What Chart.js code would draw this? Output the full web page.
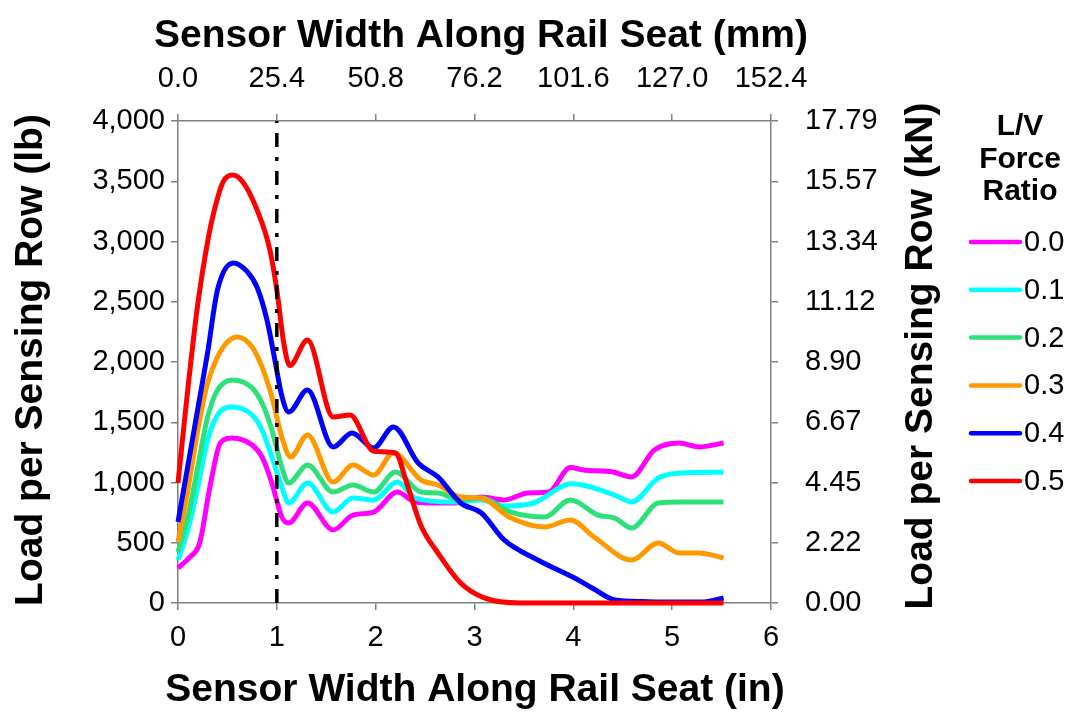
<!DOCTYPE html>
<html>
<head>
<meta charset="utf-8">
<script src="https://cdn.jsdelivr.net/npm/chart.js@4.4.1/dist/chart.umd.min.js"></script>
<style>
  html, body { margin: 0; padding: 0; background: #ffffff; }
  #wrap { width: 1072px; height: 715px; position: relative; }
</style>
</head>
<body>
<div id="wrap"><canvas id="chart"></canvas></div>
<script>
// L/V force ratios and their line colours
const ratios = ['0.0', '0.1', '0.2', '0.3', '0.4', '0.5'];
const colors = ['#FF00FF', '#00FFFF', '#2EE07A', '#FF9900', '#0000FF', '#FF0000'];

// Sensor position (in) and load per sensing row (lb) for each ratio
const pos00  = [0, 0.12, 0.22, 0.32, 0.43, 0.55, 0.75, 0.85, 0.95, 1.05, 1.12, 1.31, 1.57, 1.77, 1.98, 2.22, 2.4, 2.6, 2.8, 3.07, 3.3, 3.54, 3.75, 3.97, 4.1, 4.4, 4.59, 4.82, 5.07, 5.27, 5.52];
const load00 = [290, 380, 500, 950, 1330, 1370, 1311, 1212, 996, 714, 664, 830, 606, 730, 755, 921, 838, 830, 830, 880, 855, 913, 921, 1125, 1104, 1087, 1046, 1270, 1328, 1295, 1328];

const pos01  = [0, 0.1, 0.2, 0.3, 0.4, 0.55, 0.75, 0.85, 0.95, 1.05, 1.12, 1.31, 1.57, 1.77, 1.98, 2.22, 2.4, 2.8, 3.07, 3.3, 3.6, 3.98, 4.42, 4.59, 4.86, 5.1, 5.52];
const load01 = [357, 606, 963, 1353, 1560, 1627, 1560, 1436, 1212, 963, 830, 996, 755, 871, 855, 1004, 871, 838, 855, 805, 830, 990, 896, 838, 1037, 1079, 1085];

const pos02  = [0, 0.1, 0.2, 0.3, 0.4, 0.55, 0.75, 0.85, 0.95, 1.05, 1.12, 1.31, 1.57, 1.77, 1.98, 2.2, 2.46, 2.63, 2.86, 3.07, 3.37, 3.71, 3.97, 4.25, 4.42, 4.59, 4.86, 5.1, 5.52];
const load02 = [423, 714, 1129, 1544, 1768, 1851, 1785, 1660, 1436, 1129, 996, 1145, 921, 979, 921, 1087, 921, 913, 855, 871, 755, 714, 855, 730, 705, 622, 830, 838, 838];

const pos03  = [0, 0.1, 0.2, 0.3, 0.4, 0.5, 0.6, 0.75, 0.85, 0.95, 1.05, 1.14, 1.31, 1.57, 1.77, 1.98, 2.18, 2.46, 2.63, 2.86, 3.07, 3.35, 3.71, 3.97, 4.21, 4.59, 4.86, 5.07, 5.27, 5.52];
const load03 = [506, 938, 1436, 1826, 2042, 2166, 2208, 2125, 1959, 1710, 1378, 1212, 1394, 1004, 1145, 1062, 1245, 1020, 979, 880, 871, 714, 631, 689, 548, 357, 498, 415, 415, 374];

const pos04  = [0, 0.1, 0.2, 0.3, 0.4, 0.56, 0.7, 0.8, 0.9, 0.98, 1.05, 1.12, 1.31, 1.57, 1.76, 1.98, 2.18, 2.43, 2.63, 2.86, 3.07, 3.3, 3.64, 4.05, 4.2, 4.42, 4.7, 5.0, 5.3, 5.52];
const load04 = [672, 1140, 1610, 2080, 2600, 2822, 2750, 2620, 2349, 2017, 1720, 1585, 1768, 1295, 1411, 1287, 1461, 1162, 1046, 830, 747, 523, 357, 191, 120, 25, 12, 8, 8, 42];

const pos05  = [0, 0.1, 0.2, 0.3, 0.38, 0.46, 0.55, 0.65, 0.8, 0.93, 1.0, 1.07, 1.13, 1.31, 1.57, 1.74, 1.98, 2.2, 2.32, 2.46, 2.63, 2.86, 3.1, 3.47, 4.0, 4.5, 5.0, 5.52];
const load05 = [996, 1780, 2480, 3000, 3300, 3500, 3552, 3500, 3262, 2930, 2598, 2158, 1970, 2183, 1544, 1560, 1260, 1245, 980, 640, 415, 166, 42, 0, 0, 0, 0, 0];

// Rail seat edge marker (in) and its vertical extent (lb)
const seatEdgeX = [1, 1];
const seatEdgeY = [0, 4000];

// Tick labels
const xTicksIn = ['0', '1', '2', '3', '4', '5', '6'];
const xTicksMm = ['0.0', '25.4', '50.8', '76.2', '101.6', '127.0', '152.4'];
const yTicksLb = ['0', '500', '1,000', '1,500', '2,000', '2,500', '3,000', '3,500', '4,000'];
const yTicksKn = ['0.00', '2.22', '4.45', '6.67', '8.90', '11.12', '13.34', '15.57', '17.79'];

const FONT = "'Liberation Sans', Arial, sans-serif";
const AXIS_GRAY = '#808080';

const positions = [pos00, pos01, pos02, pos03, pos04, pos05];
const loads = [load00, load01, load02, load03, load04, load05];

const toPoints = (xs, ys) => xs.map((x, i) => ({ x: x, y: ys[i] }));

const seriesSets = ratios.map((r, i) => ({
  label: r,
  data: toPoints(positions[i], loads[i]),
  borderColor: colors[i],
  backgroundColor: colors[i],
  borderWidth: 5,
  pointRadius: 0,
  fill: false,
  cubicInterpolationMode: 'monotone',
  clip: 8,
  order: ratios.length - i,
  xAxisID: 'x',
  yAxisID: 'y'
}));

seriesSets.push({
  label: 'seat edge',
  data: toPoints(seatEdgeX, seatEdgeY),
  borderColor: '#000000',
  borderWidth: 3.5,
  borderDash: [14, 10, 4, 10],
  pointRadius: 0,
  fill: false,
  tension: 0,
  order: 0,
  clip: 4,
  xAxisID: 'x',
  yAxisID: 'y'
});

// Axis titles and the ratio legend
const annotations = {
  id: 'annotations',
  afterDraw(chart) {
    const ctx = chart.ctx;
    ctx.save();
    ctx.fillStyle = '#000';
    ctx.textAlign = 'center';
    ctx.textBaseline = 'middle';
    ctx.font = 'bold 39px ' + FONT;
    ctx.fillText('Sensor Width Along Rail Seat (mm)', 481, 36);
    ctx.fillText('Sensor Width Along Rail Seat (in)', 475, 690);

    ctx.save();
    ctx.translate(31, 360);
    ctx.rotate(-Math.PI / 2);
    ctx.fillText('Load per Sensing Row (lb)', 0, 0);
    ctx.restore();

    ctx.save();
    ctx.translate(921, 356);
    ctx.rotate(-Math.PI / 2);
    ctx.fillText('Load per Sensing Row (kN)', 0, 0);
    ctx.restore();

    ctx.font = 'bold 30px ' + FONT;
    ['L/V', 'Force', 'Ratio'].forEach((t, i) => ctx.fillText(t, 1020, 127 + 32.5 * i));

    ctx.font = '29px ' + FONT;
    ctx.textAlign = 'left';
    ratios.forEach((r, i) => {
      const y = 242 + 47.8 * i;
      ctx.strokeStyle = colors[i];
      ctx.lineWidth = 4.5;
      ctx.lineCap = 'round';
      ctx.beginPath();
      ctx.moveTo(971, y);
      ctx.lineTo(1020, y);
      ctx.stroke();
      ctx.fillText(r, 1024, y + 1);
    });
    ctx.restore();
  }
};

const commonGrid = {
  drawOnChartArea: false,
  drawTicks: true,
  tickLength: 7,
  color: AXIS_GRAY,
  lineWidth: 1.5
};
const commonBorder = { display: true, color: AXIS_GRAY, width: 1.5 };

new Chart(document.getElementById('chart'), {
  type: 'line',
  data: { datasets: seriesSets },
  plugins: [annotations],
  options: {
    responsive: true,
    maintainAspectRatio: false,
    animation: false,
    layout: { padding: 0 },
    plugins: { legend: { display: false }, tooltip: { enabled: false } },
    scales: {
      x: {
        type: 'linear', position: 'bottom', min: 0, max: 6,
        grid: commonGrid, border: commonBorder,
        ticks: {
          stepSize: 1, padding: 11, color: '#000', maxRotation: 0,
          font: { family: FONT, size: 29 },
          callback: (v, i) => xTicksIn[i]
        },
        afterFit: s => { s.height = 112; }
      },
      x2: {
        type: 'linear', position: 'top', min: 0, max: 6,
        grid: commonGrid, border: commonBorder,
        ticks: {
          stepSize: 1, padding: 18, color: '#000', maxRotation: 0,
          font: { family: FONT, size: 29 },
          callback: (v, i) => xTicksMm[i]
        },
        afterFit: s => { s.height = 121; }
      },
      y: {
        type: 'linear', position: 'left', min: 0, max: 4000,
        grid: commonGrid, border: commonBorder,
        ticks: {
          stepSize: 500, padding: 6, color: '#000',
          font: { family: FONT, size: 29 },
          callback: (v, i) => yTicksLb[i]
        },
        afterFit: s => { s.width = 178; }
      },
      y2: {
        type: 'linear', position: 'right', min: 0, max: 4000,
        grid: commonGrid, border: commonBorder,
        ticks: {
          stepSize: 500, padding: 27, color: '#000',
          font: { family: FONT, size: 29 },
          callback: (v, i) => yTicksKn[i]
        },
        afterFit: s => { s.width = 301; }
      }
    }
  }
});
</script>
</body>
</html>
